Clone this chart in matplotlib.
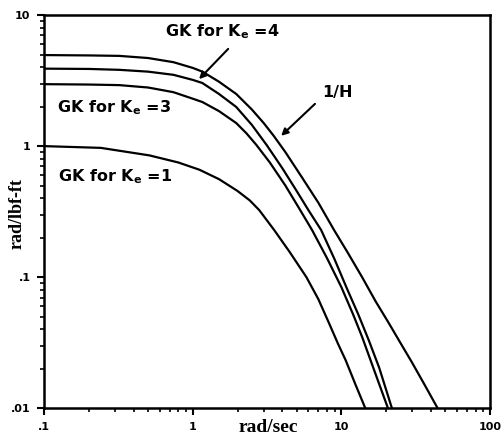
import numpy as np
import matplotlib.pyplot as plt
from matplotlib.ticker import FixedLocator, LogLocator, NullFormatter

# values (rad/sec, rad/lbf-ft)
w_inv_h = [0.1, 0.2, 0.32, 0.5, 0.74, 1.0, 1.16, 1.5, 1.96, 2.5, 3.0, 3.5, 4.2,
           5.47, 7.0, 8.93, 11.0, 13.8, 17.0, 20.9, 25.0, 29.8, 36.0, 44.5]
inv_h = [4.95, 4.92, 4.88, 4.7, 4.37, 3.95, 3.7, 3.1, 2.5, 1.9, 1.5, 1.2, 0.9,
         0.57, 0.37, 0.229, 0.155, 0.1, 0.0655, 0.0445, 0.0315, 0.0225, 0.0154, 0.01]

w_ke4 = [0.1, 0.2, 0.32, 0.5, 0.74, 1.0, 1.16, 1.5, 1.96, 2.5, 3.14, 4.0, 5.0,
         6.0, 7.31, 9.0, 10.8, 13.0, 15.3, 18.0, 21.9]
gk_ke4 = [3.9, 3.88, 3.82, 3.7, 3.5, 3.2, 3.03, 2.5, 1.99, 1.45, 1.02, 0.68, 0.455,
          0.325, 0.229, 0.137, 0.084, 0.052, 0.033, 0.0203, 0.01]

w_ke3 = [0.1, 0.2, 0.32, 0.5, 0.74, 1.0, 1.16, 1.5, 1.96, 2.3, 2.68, 3.3, 4.2,
         5.2, 6.35, 8.0, 10.0, 12.0, 13.8, 16.5, 20.6]
gk_ke3 = [2.97, 2.95, 2.92, 2.8, 2.58, 2.3, 2.17, 1.85, 1.5, 1.25, 1.02, 0.75, 0.5,
          0.335, 0.229, 0.14, 0.084, 0.052, 0.035, 0.02, 0.01]

w_ke1 = [0.1, 0.24, 0.51, 0.8, 1.11, 1.5, 2.0, 2.42, 2.8, 3.53, 4.5, 5.82, 7.0,
         8.26, 9.5, 10.7, 12.5, 14.5]
gk_ke1 = [1.0, 0.97, 0.85, 0.75, 0.66, 0.56, 0.455, 0.385, 0.325, 0.229, 0.155, 0.1, 0.068,
          0.0446, 0.031, 0.0232, 0.015, 0.01]

x_ticks = [0.1, 1, 10, 100]
x_labels = ['.1', '1', '10', '100']
y_ticks = [0.01, 0.1, 1, 10]
y_labels = ['.01', '.1', '1', '10']

fig = plt.figure(figsize=(5.03, 4.36), dpi=100)
ax = fig.add_axes([0.088, 0.0635, 0.886, 0.902])

for w, g in [(w_inv_h, inv_h), (w_ke4, gk_ke4), (w_ke3, gk_ke3), (w_ke1, gk_ke1)]:
    ax.plot(w, g, color='black', linewidth=1.6)

ax.set_xscale('log')
ax.set_yscale('log')
ax.set_xlim(0.1, 100)
ax.set_ylim(0.01, 10)

ax.xaxis.set_major_locator(FixedLocator(x_ticks))
ax.yaxis.set_major_locator(FixedLocator(y_ticks))
ax.set_xticklabels(x_labels, fontsize=8, fontweight='bold')
ax.set_yticklabels(y_labels, fontsize=8, fontweight='bold')
ax.xaxis.set_minor_locator(LogLocator(base=10, subs=np.arange(2, 10)))
ax.yaxis.set_minor_locator(LogLocator(base=10, subs=np.arange(2, 10)))
ax.xaxis.set_minor_formatter(NullFormatter())
ax.yaxis.set_minor_formatter(NullFormatter())
ax.tick_params(which='major', direction='out', length=5, width=1.5, pad=5)
ax.tick_params(which='minor', direction='out', length=3, width=1.2)

for s in ax.spines.values():
    s.set_linewidth(1.8)

ax.set_xlabel('rad/sec', fontsize=14, fontweight='bold', family='Liberation Serif', va='center')
ax.xaxis.set_label_coords(0.502, -0.048)
ax.set_ylabel('rad/lbf-ft', fontsize=13, fontweight='bold', family='Liberation Serif', va='center')
ax.yaxis.set_label_coords(-0.061, 0.494)

fs = 11.5
txt = dict(fontsize=fs, fontweight='bold', va='center', ha='left', transform=ax.transAxes)
ax.text(0.028, 0.764, r'GK for K$_\mathbf{e}$ =3', **txt)
ax.text(0.031, 0.588, r'GK for K$_\mathbf{e}$ =1', **txt)
ax.text(0.271, 0.959, r'GK for K$_\mathbf{e}$ =4', **txt)
ax.text(0.623, 0.804, '1/H', **txt)
ax.annotate('', xy=(0.343, 0.832), xycoords='axes fraction',
            xytext=(0.417, 0.919), textcoords='axes fraction',
            arrowprops=dict(arrowstyle='-|>', color='black', lw=1.5, mutation_scale=10))
ax.annotate('', xy=(0.527, 0.688), xycoords='axes fraction',
            xytext=(0.612, 0.779), textcoords='axes fraction',
            arrowprops=dict(arrowstyle='-|>', color='black', lw=1.5, mutation_scale=10))

fig.savefig('out.png', dpi=100)
